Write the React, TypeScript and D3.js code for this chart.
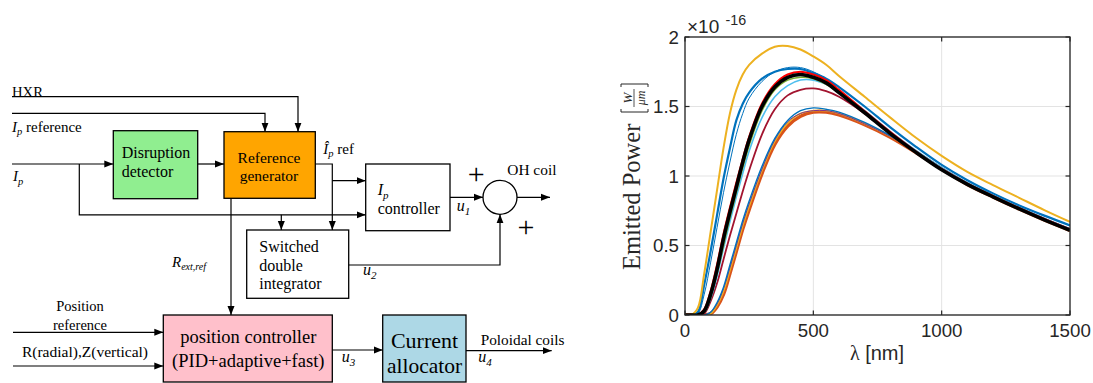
import * as d3 from "d3";

// wavelength samples (nm) and emitted power (x1e-16 W/um)
const lambdaNm = [0, 25, 50, 75, 100, 125, 150, 175, 200, 225, 250, 300, 350, 400, 450, 500, 550, 600, 700, 800, 900, 1000, 1100, 1200, 1300, 1400, 1500];

const orangeLow = [0, 0, 0, 0, 0.01, 0.06, 0.15, 0.3, 0.46, 0.62, 0.76, 1.02, 1.23, 1.36, 1.43, 1.46, 1.46, 1.44, 1.37, 1.28, 1.17, 1.05, 0.94, 0.85, 0.765, 0.685, 0.61];
const yellowLow = [0, 0, 0, 0, 0.01, 0.07, 0.17, 0.32, 0.48, 0.64, 0.78, 1.04, 1.25, 1.38, 1.45, 1.47, 1.47, 1.45, 1.375, 1.285, 1.175, 1.055, 0.945, 0.855, 0.77, 0.69, 0.615];
const purpleLow = [0, 0, 0, 0, 0.02, 0.08, 0.19, 0.34, 0.5, 0.66, 0.8, 1.05, 1.26, 1.39, 1.45, 1.47, 1.47, 1.45, 1.375, 1.285, 1.175, 1.055, 0.945, 0.855, 0.77, 0.69, 0.615];
const blueLow = [0, 0, 0, 0, 0.02, 0.09, 0.2, 0.36, 0.52, 0.68, 0.82, 1.07, 1.27, 1.4, 1.47, 1.49, 1.48, 1.46, 1.385, 1.29, 1.18, 1.06, 0.95, 0.86, 0.775, 0.695, 0.62];
const maroon = [0, 0, 0, 0.01, 0.1, 0.23, 0.4, 0.57, 0.73, 0.89, 1.04, 1.3, 1.48, 1.58, 1.62, 1.63, 1.61, 1.57, 1.45, 1.31, 1.175, 1.05, 0.945, 0.855, 0.77, 0.69, 0.615];
const cyan = [0, 0, 0, 0.02, 0.12, 0.28, 0.48, 0.67, 0.85, 1.02, 1.18, 1.42, 1.57, 1.65, 1.69, 1.69, 1.66, 1.61, 1.47, 1.32, 1.185, 1.06, 0.95, 0.86, 0.775, 0.695, 0.62];
const blueThin = [0, 0, 0.01, 0.15, 0.38, 0.63, 0.88, 1.1, 1.3, 1.45, 1.56, 1.68, 1.75, 1.78, 1.78, 1.75, 1.7, 1.64, 1.5, 1.35, 1.21, 1.08, 0.97, 0.875, 0.79, 0.715, 0.645];
const blueHigh = [0, 0, 0.02, 0.22, 0.46, 0.72, 0.98, 1.2, 1.4, 1.52, 1.6, 1.7, 1.75, 1.77, 1.77, 1.74, 1.7, 1.64, 1.5, 1.35, 1.21, 1.08, 0.97, 0.875, 0.79, 0.715, 0.645];
const yellowHigh = [0, 0, 0.05, 0.3, 0.6, 0.9, 1.2, 1.45, 1.62, 1.73, 1.8, 1.88, 1.93, 1.935, 1.91, 1.86, 1.8, 1.72, 1.57, 1.42, 1.275, 1.145, 1.03, 0.935, 0.845, 0.755, 0.67];
const olive = [0, 0, 0, 0.02, 0.13, 0.3, 0.5, 0.7, 0.88, 1.06, 1.22, 1.47, 1.62, 1.69, 1.71, 1.7, 1.66, 1.6, 1.455, 1.305, 1.17, 1.045, 0.94, 0.85, 0.765, 0.685, 0.61];
const red = [0, 0, 0, 0.04, 0.17, 0.36, 0.58, 0.77, 0.95, 1.12, 1.28, 1.52, 1.66, 1.73, 1.75, 1.73, 1.69, 1.62, 1.465, 1.315, 1.175, 1.05, 0.945, 0.855, 0.77, 0.69, 0.615];
const black = [0, 0, 0, 0.03, 0.15, 0.33, 0.55, 0.74, 0.92, 1.1, 1.26, 1.5, 1.64, 1.71, 1.73, 1.71, 1.67, 1.6, 1.455, 1.305, 1.17, 1.045, 0.94, 0.85, 0.765, 0.685, 0.61];

const xTicks = [0, 500, 1000, 1500];
const yTicks = [0, 0.5, 1, 1.5, 2];
const yTickLabels = ["0", "0.5", "1", "1.5", "2"];

const SERIF = "'Liberation Serif', 'Times New Roman', serif";
const SANS = "'Liberation Sans', Arial, sans-serif";

function Arrow({ pts }: { pts: [number, number][] }) {
  const d = "M" + pts.map((p) => p.join(",")).join("L");
  return <path d={d} fill="none" stroke="#000" strokeWidth={1.2} markerEnd="url(#arr)" />;
}

function Sub({ base, sub, x, y, size, subSize }: { base: string; sub: string; x: number; y: number; size: number; subSize: number }) {
  return (
    <text x={x} y={y} fontFamily={SERIF} fontSize={size} fontStyle="italic">
      {base}
      <tspan fontSize={subSize} dy={size * 0.25}>{sub}</tspan>
    </text>
  );
}

function Diagram() {
  return (
    <g>
      {/* boxes */}
      <rect x={113.3} y={130.7} width={84.4} height={68} fill="#90EE90" stroke="#000" strokeWidth={1.3} />
      <rect x={224} y={131.7} width={91.3} height={66.6} fill="#FFA500" stroke="#000" strokeWidth={1.3} />
      <rect x={365.7} y={164} width={84.3} height={66.7} fill="#fff" stroke="#000" strokeWidth={1.3} />
      <rect x={246.7} y={230} width={102} height={68.3} fill="#fff" stroke="#000" strokeWidth={1.3} />
      <rect x={163.3} y={315} width={169} height={67} fill="#FFC0CB" stroke="#000" strokeWidth={1.3} />
      <rect x={382.7} y={315} width={83.3} height={67} fill="#ADD8E6" stroke="#000" strokeWidth={1.3} />
      <circle cx={500} cy={197.3} r={17} fill="#fff" stroke="#000" strokeWidth={1.3} />

      {/* connections */}
      <Arrow pts={[[12, 96.7], [298, 96.7], [298, 131.7]]} />
      <Arrow pts={[[12, 113.3], [265, 113.3], [265, 131.7]]} />
      <Arrow pts={[[12, 164], [113.3, 164]]} />
      <Arrow pts={[[79.3, 164], [79.3, 214.8], [365.7, 214.8]]} />
      <Arrow pts={[[197.7, 164], [224, 164]]} />
      <Arrow pts={[[315.3, 164], [332.3, 164], [332.3, 230]]} />
      <Arrow pts={[[332.3, 180.7], [365.7, 180.7]]} />
      <Arrow pts={[[281.3, 214.8], [281.3, 230]]} />
      <Arrow pts={[[450, 197.3], [483, 197.3]]} />
      <Arrow pts={[[517, 197.3], [550, 197.3]]} />
      <Arrow pts={[[348.7, 265], [500, 265], [500, 214.3]]} />
      <Arrow pts={[[231, 198.3], [231, 315]]} />
      <Arrow pts={[[13, 332.3], [163.3, 332.3]]} />
      <Arrow pts={[[13, 366], [163.3, 366]]} />
      <Arrow pts={[[332.3, 350], [382.7, 350]]} />
      <Arrow pts={[[466, 350.7], [551.7, 350.7]]} />

      {/* labels */}
      <g fontFamily={SERIF} fill="#000">
        <text x={12} y={97} fontSize={14.7}>HXR</text>
        <text x={12} y={132} fontSize={15}>
          <tspan fontStyle="italic">I</tspan>
          <tspan fontStyle="italic" fontSize={10.5} dy={3}>p</tspan>
          <tspan dy={-3}> reference</tspan>
        </text>
        <Sub base="I" sub="p" x={13} y={181} size={15} subSize={10.5} />
        <text x={121.7} y={158} fontSize={16}>Disruption</text>
        <text x={121.7} y={177} fontSize={16}>detector</text>
        <text x={269} y={163} fontSize={15.5} textAnchor="middle">Reference</text>
        <text x={269} y={181} fontSize={15.5} textAnchor="middle">generator</text>
        <text x={323.3} y={153.5} fontSize={15}>
          <tspan fontStyle="italic">Î</tspan>
          <tspan fontStyle="italic" fontSize={10.5} dy={3}>p</tspan>
          <tspan dy={-3}> ref</tspan>
        </text>
        <Sub base="I" sub="p" x={377.7} y={195} size={16} subSize={11} />
        <text x={377.7} y={213.5} fontSize={16}>controller</text>
        <Sub base="u" sub="1" x={456.7} y={211} size={16} subSize={11} />
        <text x={476.2} y={184} fontSize={30} textAnchor="middle">+</text>
        <text x={526} y={236.5} fontSize={30} textAnchor="middle">+</text>
        <text x={507.3} y={175} fontSize={15.4}>OH coil</text>
        <text x={259.3} y={252} fontSize={16}>Switched</text>
        <text x={259.3} y={270.5} fontSize={16}>double</text>
        <text x={259.3} y={289} fontSize={16}>integrator</text>
        <Sub base="u" sub="2" x={363} y={275} size={16} subSize={11} />
        <text x={172} y={267} fontSize={15} fontStyle="italic">
          R<tspan fontSize={10} dy={3}>ext,ref</tspan>
        </text>
        <text x={80} y={310.7} fontSize={14.5} textAnchor="middle">Position</text>
        <text x={80} y={330} fontSize={14.5} textAnchor="middle">reference</text>
        <text x={85} y={357} fontSize={15.5} textAnchor="middle">R(radial),Z(vertical)</text>
        <text x={248.3} y={343.3} fontSize={18.5} textAnchor="middle">position controller</text>
        <text x={248.3} y={367.3} fontSize={18.5} textAnchor="middle">(PID+adaptive+fast)</text>
        <Sub base="u" sub="3" x={341.7} y={362} size={16} subSize={11} />
        <text x={424.5} y={348.3} fontSize={22} textAnchor="middle">Current</text>
        <text x={424.5} y={372.7} fontSize={21.5} textAnchor="middle">allocator</text>
        <text x={480.7} y={345} fontSize={15.3}>Poloidal coils</text>
        <Sub base="u" sub="4" x={478.3} y={362} size={16} subSize={11} />
      </g>
    </g>
  );
}

function Plot() {
  const x = d3.scaleLinear([0, 1500], [685, 1070]);
  const y = d3.scaleLinear([0, 2], [315, 37]);
  const line = d3
    .line<number>()
    .x((_, i) => x(lambdaNm[i]))
    .y((v) => y(v))
    .curve(d3.curveCatmullRom.alpha(0.5));

  const series: { vals: number[]; color: string; w: number }[] = [
    { vals: orangeLow, color: "#D95319", w: 3.6 },
    { vals: yellowLow, color: "#EDB120", w: 1.6 },
    { vals: purpleLow, color: "#7E2F8E", w: 1 },
    { vals: blueLow, color: "#0072BD", w: 1.4 },
    { vals: maroon, color: "#A2142F", w: 1.8 },
    { vals: cyan, color: "#4DBEEE", w: 1.6 },
    { vals: blueThin, color: "#0072BD", w: 1 },
    { vals: blueHigh, color: "#0072BD", w: 2.2 },
    { vals: yellowHigh, color: "#EDB120", w: 2 },
    { vals: olive, color: "#77AC30", w: 1.5 },
    { vals: red, color: "#FF0000", w: 2.2 },
    { vals: black, color: "#000000", w: 3.6 },
  ];

  const [x0, x1] = x.range();
  const [y0, y1] = y.range();

  return (
    <g>
      <rect x={x0} y={y1} width={x1 - x0} height={y0 - y1} fill="#fff" />
      {xTicks.map((t) => (
        <line key={"gx" + t} x1={x(t)} x2={x(t)} y1={y1} y2={y0} stroke="#e3e3e3" strokeWidth={1} />
      ))}
      {yTicks.map((t) => (
        <line key={"gy" + t} x1={x0} x2={x1} y1={y(t)} y2={y(t)} stroke="#e3e3e3" strokeWidth={1} />
      ))}
      <defs>
        <clipPath id="plot-clip">
          <rect x={x0} y={y1} width={x1 - x0} height={y0 - y1} />
        </clipPath>
      </defs>
      <g clipPath="url(#plot-clip)">
        {series.map((s, i) => (
          <path key={i} d={line(s.vals) ?? ""} fill="none" stroke={s.color} strokeWidth={s.w} strokeLinejoin="round" />
        ))}
      </g>
      {/* frame + ticks */}
      <rect x={x0} y={y1} width={x1 - x0} height={y0 - y1} fill="none" stroke="#262626" strokeWidth={1.3} />
      {xTicks.map((t) => (
        <g key={"tx" + t}>
          <line x1={x(t)} x2={x(t)} y1={y0} y2={y0 - 4.5} stroke="#262626" strokeWidth={1.2} />
          <line x1={x(t)} x2={x(t)} y1={y1} y2={y1 + 4.5} stroke="#262626" strokeWidth={1.2} />
          <text x={x(t)} y={336.7} textAnchor="middle" fontFamily={SANS} fontSize={18.7} fill="#262626">
            {t}
          </text>
        </g>
      ))}
      {yTicks.map((t, i) => (
        <g key={"ty" + t}>
          <line x1={x0} x2={x0 + 4.5} y1={y(t)} y2={y(t)} stroke="#262626" strokeWidth={1.2} />
          <line x1={x1} x2={x1 - 4.5} y1={y(t)} y2={y(t)} stroke="#262626" strokeWidth={1.2} />
          <text x={679} y={y(t) + 6.7} textAnchor="end" fontFamily={SANS} fontSize={18.7} fill="#262626">
            {yTickLabels[i]}
          </text>
        </g>
      ))}
      <text x={687} y={33.3} fontFamily={SANS} fontSize={19} fill="#262626">
        ×10
      </text>
      <text x={725.5} y={25} fontFamily={SANS} fontSize={14.3} fill="#262626">
        -16
      </text>
      <text x={877} y={360} textAnchor="middle" fontFamily={SANS} fontSize={20} fill="#262626">
        <tspan fontFamily={SERIF}>λ</tspan> [nm]
      </text>
      <g transform="translate(640,270) rotate(-90)" fill="#262626" fontFamily={SERIF}>
        <text x={0} y={0} fontSize={24.5}>Emitted Power</text>
        <path d="M161,-19 H158 V8 H161" fill="none" stroke="#262626" strokeWidth={1} />
        <path d="M183,-19 H186 V8 H183" fill="none" stroke="#262626" strokeWidth={1} />
        <text x={172} y={-8.5} fontSize={13} fontStyle="italic" textAnchor="middle">W</text>
        <line x1={163} x2={181} y1={-6} y2={-6} stroke="#262626" strokeWidth={0.8} />
        <text x={172} y={5} fontSize={12} fontStyle="italic" textAnchor="middle">μm</text>
      </g>
    </g>
  );
}

export default function App() {
  return (
    <svg
      width={1093}
      height={383}
      viewBox="0 0 1093 383"
      style={{ position: "absolute", left: 0, top: 0, background: "#fff" }}
    >
      <defs>
        <marker id="arr" markerUnits="userSpaceOnUse" markerWidth={10} markerHeight={8} refX={9} refY={4} orient="auto">
          <path d="M0,0.5 L9,4 L0,7.5 z" fill="#000" />
        </marker>
      </defs>
      <rect width={1093} height={383} fill="#fff" />
      <Diagram />
      <Plot />
    </svg>
  );
}
